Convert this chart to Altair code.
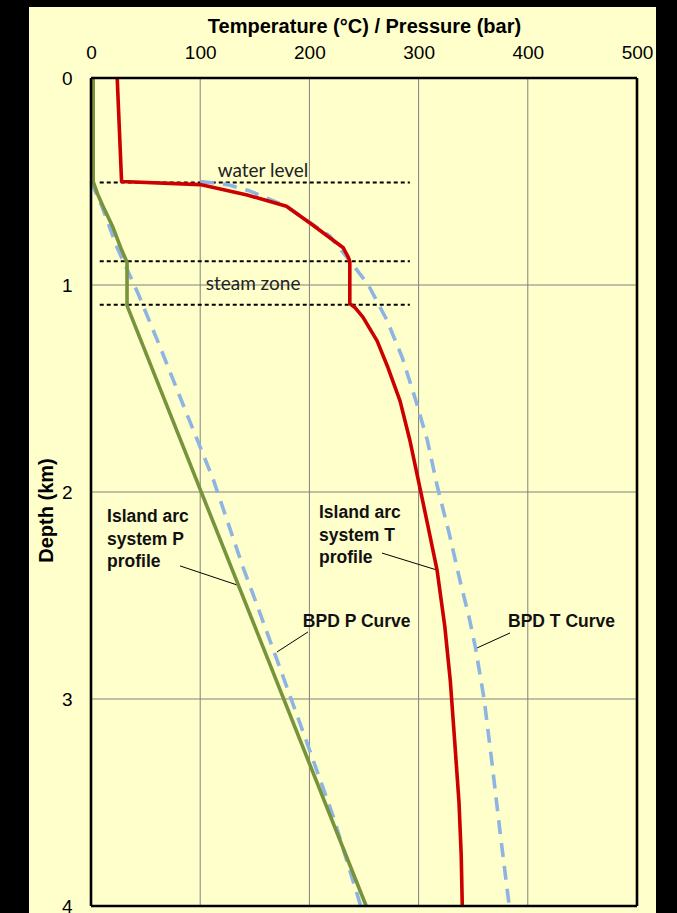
import altair as alt
import pandas as pd

# ---- data (x: temperature °C / pressure bar, y: depth km) ----
t_profile_x = [24, 28, 100, 143, 179, 203, 231, 236, 237, 237, 242, 249, 262, 272, 283, 292, 300, 308, 317, 324, 329, 333, 337, 339, 340]
t_profile_y = [0.0, 0.5, 0.515, 0.565, 0.62, 0.71, 0.82, 0.87, 0.89, 1.09, 1.11, 1.155, 1.27, 1.4, 1.56, 1.75, 1.95, 2.15, 2.38, 2.65, 2.91, 3.2, 3.5, 3.75, 4.0]

bpd_t_x = [100, 125, 145, 179, 205, 219, 238, 254, 271, 285, 297, 308, 317, 328, 338, 346, 352, 360, 367, 375, 383]
bpd_t_y = [0.5, 0.515, 0.545, 0.62, 0.715, 0.765, 0.89, 1.0, 1.17, 1.35, 1.55, 1.75, 1.97, 2.2, 2.43, 2.6, 2.75, 3.0, 3.3, 3.66, 4.0]

p_profile_x = [2, 2, 6, 11, 20, 28, 33, 33, 252]
p_profile_y = [0.0, 0.5, 0.56, 0.62, 0.72, 0.83, 0.89, 1.1, 4.0]

bpd_p_x = [0, 10, 24, 43, 61, 86, 112, 139, 153, 173, 197, 222, 247]
bpd_p_y = [0.5, 0.62, 0.82, 1.04, 1.27, 1.6, 1.94, 2.36, 2.56, 2.85, 3.2, 3.57, 4.0]

level_depths = [0.505, 0.885, 1.095]
level_x_start = [8, 8, 8]
level_x_end = [292, 292, 292]

zone_labels = ["water level", "steam zone"]
zone_x = [157.5, 148.4]
zone_y = [0.478, 1.024]

curve_labels = ["Island arc\nsystem P\nprofile", "Island arc\nsystem T\nprofile", "BPD P Curve", "BPD T Curve"]
curve_label_x = [14.7, 208.8, 194, 381.9]
curve_label_y = [2.145, 2.126, 2.652, 2.652]

leader_x1 = [81.5, 266.5, 198.7, 383.7]
leader_y1 = [2.357, 2.295, 2.676, 2.681]
leader_x2 = [133.7, 316.8, 170.3, 351.6]
leader_y2 = [2.449, 2.377, 2.773, 2.758]

x_ticks = [0, 100, 200, 300, 400, 500]
y_ticks = [0, 1, 2, 3, 4]
x_grid = [100, 200, 300, 400]
y_grid = [1, 2, 3]

X_DOMAIN = [0, 500]
Y_DOMAIN = [0, 4]

CREAM = "#FFFFCC"
FONT = "Liberation Sans"

xs = alt.Scale(domain=X_DOMAIN, nice=False, zero=False)
ys = alt.Scale(domain=Y_DOMAIN, reverse=True, nice=False, zero=False)

x_axis = alt.Axis(
    orient="top", values=x_ticks, format="d", title="Temperature (°C) / Pressure (bar)",
    titleFont=FONT, titleFontSize=20, titleFontWeight="bold", titleColor="black",
    titleY=-46, titleBaseline="alphabetic",
    labelFont=FONT, labelFontSize=19, labelColor="black", labelPadding=20,
    labelBaseline="alphabetic", labelFlush=False,
    domain=False, ticks=False, tickSize=0, grid=False, zindex=1,
)
y_axis = alt.Axis(
    orient="left", values=y_ticks, format="d", title="Depth (km)",
    titleFont=FONT, titleFontSize=20, titleFontWeight="bold", titleColor="black",
    titleAngle=270, titleX=-45, titleY=432, titleAlign="center", titleBaseline="middle",
    labelFont=FONT, labelFontSize=19, labelColor="black", labelPadding=19,
    domain=False, ticks=False, tickSize=0, grid=False, zindex=1,
)

# cream panel behind the chart
panel = alt.Chart(pd.DataFrame({"k": [0]})).mark_rect(color=CREAM).encode(
    x=alt.value(-62), x2=alt.value(565), y=alt.value(-71), y2=alt.value(835)
)

vgrid = alt.Chart(pd.DataFrame({"x": x_grid})).mark_rule(color="#808080", strokeWidth=1).encode(
    x=alt.X("x:Q", scale=xs, axis=x_axis)
)
hgrid = alt.Chart(pd.DataFrame({"y": y_grid})).mark_rule(color="#808080", strokeWidth=1).encode(
    y=alt.Y("y:Q", scale=ys, axis=y_axis)
)

levels = alt.Chart(pd.DataFrame({"y": level_depths, "x1": level_x_start, "x2": level_x_end})).mark_rule(
    color="black", strokeWidth=2, strokeDash=[4, 3]
).encode(x=alt.X("x1:Q", scale=xs), x2="x2:Q", y=alt.Y("y:Q", scale=ys))

leaders = alt.Chart(pd.DataFrame({"x1": leader_x1, "y1": leader_y1, "x2": leader_x2, "y2": leader_y2})).mark_rule(
    color="black", strokeWidth=1
).encode(x=alt.X("x1:Q", scale=xs), x2="x2:Q", y=alt.Y("y1:Q", scale=ys), y2="y2:Q")


def curve(xv, yv, color, dash=None):
    df = pd.DataFrame({"x": xv, "y": yv, "i": list(range(len(xv)))})
    kw = dict(color=color, strokeWidth=3.6, strokeCap="butt", strokeJoin="round")
    if dash:
        kw["strokeDash"] = dash
    return alt.Chart(df).mark_line(**kw).encode(
        x=alt.X("x:Q", scale=xs), y=alt.Y("y:Q", scale=ys), order="i:Q"
    )


bpd_t = curve(bpd_t_x, bpd_t_y, "#8DB4E2", [14, 9])
bpd_p = curve(bpd_p_x, bpd_p_y, "#8DB4E2", [14, 9])
p_prof = curve(p_profile_x, p_profile_y, "#77933C")
t_prof = curve(t_profile_x, t_profile_y, "#CC0000")

border_v = alt.Chart(pd.DataFrame({"x": X_DOMAIN})).mark_rule(color="black", strokeWidth=2.6).encode(
    x=alt.X("x:Q", scale=xs)
)
border_h = alt.Chart(pd.DataFrame({"y": Y_DOMAIN})).mark_rule(color="black", strokeWidth=2.6).encode(
    y=alt.Y("y:Q", scale=ys)
)

zone_text = alt.Chart(pd.DataFrame({"t": zone_labels, "x": zone_x, "y": zone_y})).mark_text(
    font="Lato", fontSize=19, color="#222222", align="center", baseline="alphabetic"
).encode(x=alt.X("x:Q", scale=xs), y=alt.Y("y:Q", scale=ys), text="t:N")

curve_text = alt.Chart(pd.DataFrame({"t": curve_labels, "x": curve_label_x, "y": curve_label_y})).mark_text(
    font=FONT, fontSize=17.5, fontWeight="bold", color="#111111", align="left", baseline="alphabetic",
    lineBreak="\n", lineHeight=22.5
).encode(x=alt.X("x:Q", scale=xs), y=alt.Y("y:Q", scale=ys), text="t:N")

chart = alt.layer(
    panel, vgrid, hgrid, levels, leaders, bpd_t, bpd_p, p_prof, t_prof,
    border_v, border_h, zone_text, curve_text
).properties(
    width=546, height=828,
    autosize=alt.AutoSizeParams(type="none"),
    padding={"left": 91, "top": 78, "right": 40, "bottom": 7},
    background="black",
).configure_view(stroke=None)

chart.save("out.html", embed_options={"renderer": "svg", "actions": False})
